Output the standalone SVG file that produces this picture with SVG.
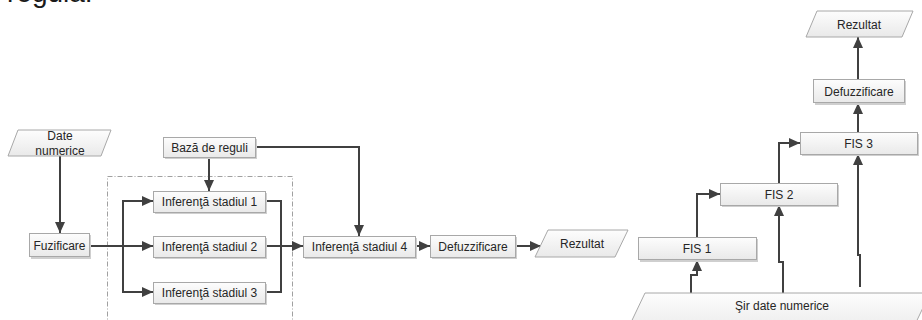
<svg xmlns="http://www.w3.org/2000/svg" width="922" height="320" viewBox="0 0 922 320">
  <defs>
    <linearGradient id="boxFill" x1="0" y1="0" x2="0" y2="1">
      <stop offset="0" stop-color="#fdfdfd"/>
      <stop offset="1" stop-color="#e9e9e9"/>
    </linearGradient>
    <marker id="arrow" markerUnits="userSpaceOnUse" markerWidth="12" markerHeight="10" refX="11" refY="5" orient="auto">
      <path d="M0,0 L11,5 L0,10 z" fill="#404040"/>
    </marker>
    <style>
      .box { fill: url(#boxFill); stroke: #a8a8a8; stroke-width: 1; }
      .shadow { fill: #cfcfcf; }
      .lbl { font-family: "Liberation Sans", Arial, sans-serif; font-size: 12px; fill: #262626; text-anchor: middle; }
      .conn { fill: none; stroke: #404040; stroke-width: 2; }
      .arr { marker-end: url(#arrow); }
      .group { fill: none; stroke: #a0a0a0; stroke-width: 1; stroke-dasharray: 5 2 1 2; }
    </style>
  </defs>

  <rect width="922" height="320" fill="#ffffff"/>

  <!-- heading text running off the top edge -->
  <text x="7" y="2" font-family="'Liberation Sans', Arial, sans-serif" font-size="28" fill="#1a1a1a">regulă.</text>

  <!-- dashed boundary around the parallel inference stages -->
  <rect class="group" x="107.5" y="176.5" width="185" height="160"/>

  <!-- connectors -->
  <g id="connectors">
    <path class="conn arr" d="M60,156 V233"/>
    <path class="conn arr" d="M89,246 H153"/>
    <path class="conn arr" d="M123,246 V201 H153"/>
    <path class="conn arr" d="M123,246 V292 H153"/>
    <path class="conn arr" d="M209,157 V191"/>
    <path class="conn" d="M265,201 H281 V292 H265"/>
    <path class="conn arr" d="M265,246 H303"/>
    <path class="conn arr" d="M255,147 H359 V236"/>
    <path class="conn arr" d="M415,246 H430"/>
    <path class="conn arr" d="M515,246 H541"/>

    <path class="conn arr" d="M691,293 V275 H697 V260"/>
    <path class="conn arr" d="M697,237 V194 H720"/>
    <path class="conn arr" d="M783,293 V262 H779 V205"/>
    <path class="conn arr" d="M779,183 V143 H800"/>
    <path class="conn arr" d="M860,287 V255 H858 V154"/>
    <path class="conn arr" d="M858,132 V103"/>
    <path class="conn arr" d="M858,79 V37"/>
  </g>

  <!-- left pipeline -->
  <g id="date-numerice">
    <polygon class="box" points="18,130 111,130 101,156 8,156"/>
    <text class="lbl" x="60" y="140">Date</text>
    <text class="lbl" x="60" y="155">numerice</text>
  </g>
  <g id="fuzificare">
    <rect class="shadow" x="31" y="235" width="60" height="24"/>
    <rect class="box" x="29.5" y="233.5" width="60" height="23"/>
    <text class="lbl" x="59.5" y="249.5">Fuzificare</text>
  </g>
  <g id="baza-reguli">
    <rect class="shadow" x="165" y="139" width="92" height="20"/>
    <rect class="box" x="163.5" y="137.5" width="92" height="20"/>
    <text class="lbl" x="209.5" y="151.5">Bază de reguli</text>
  </g>
  <g id="inferenta-1">
    <rect class="shadow" x="155" y="193" width="112" height="21"/>
    <rect class="box" x="153.5" y="191.5" width="112" height="21"/>
    <text class="lbl" x="209.5" y="206">Inferenţă stadiul 1</text>
  </g>
  <g id="inferenta-2">
    <rect class="shadow" x="155" y="238" width="112" height="21"/>
    <rect class="box" x="153.5" y="236.5" width="112" height="21"/>
    <text class="lbl" x="209.5" y="251">Inferenţă stadiul 2</text>
  </g>
  <g id="inferenta-3">
    <rect class="shadow" x="155" y="284" width="112" height="21"/>
    <rect class="box" x="153.5" y="282.5" width="112" height="21"/>
    <text class="lbl" x="209.5" y="297">Inferenţă stadiul 3</text>
  </g>
  <g id="inferenta-4">
    <rect class="shadow" x="305" y="238" width="112" height="21"/>
    <rect class="box" x="303.5" y="236.5" width="112" height="21"/>
    <text class="lbl" x="359.5" y="251">Inferenţă stadiul 4</text>
  </g>
  <g id="defuzzificare-1">
    <rect class="shadow" x="432" y="237" width="85" height="22"/>
    <rect class="box" x="430.5" y="235.5" width="85" height="22"/>
    <text class="lbl" x="473" y="250.5">Defuzzificare</text>
  </g>
  <g id="rezultat-1">
    <polygon class="box" points="548,230 628,230 615,257 535,257"/>
    <text class="lbl" x="582" y="248">Rezultat</text>
  </g>

  <!-- cascaded FIS chain -->
  <g id="sir-date">
    <polygon class="box" points="645,293 930,293 910,335 625,335"/>
    <text class="lbl" x="782" y="310">Şir date numerice</text>
  </g>
  <g id="fis-1">
    <rect class="shadow" x="640" y="239" width="118" height="23"/>
    <rect class="box" x="638.5" y="237.5" width="118" height="22"/>
    <text class="lbl" x="697" y="253">FIS 1</text>
  </g>
  <g id="fis-2">
    <rect class="shadow" x="722" y="185" width="117" height="22"/>
    <rect class="box" x="720.5" y="183.5" width="117" height="22"/>
    <text class="lbl" x="779" y="198.5">FIS 2</text>
  </g>
  <g id="fis-3">
    <rect class="shadow" x="802" y="134" width="117" height="22"/>
    <rect class="box" x="800.5" y="132.5" width="117" height="22"/>
    <text class="lbl" x="858.5" y="147.5">FIS 3</text>
  </g>
  <g id="defuzzificare-2">
    <rect class="shadow" x="815" y="81" width="91" height="24"/>
    <rect class="box" x="813.5" y="79.5" width="91" height="23"/>
    <text class="lbl" x="859" y="95.5">Defuzzificare</text>
  </g>
  <g id="rezultat-2">
    <polygon class="box" points="817,11 913,11 902,37 806,37"/>
    <text class="lbl" x="859" y="29">Rezultat</text>
  </g>
</svg>
